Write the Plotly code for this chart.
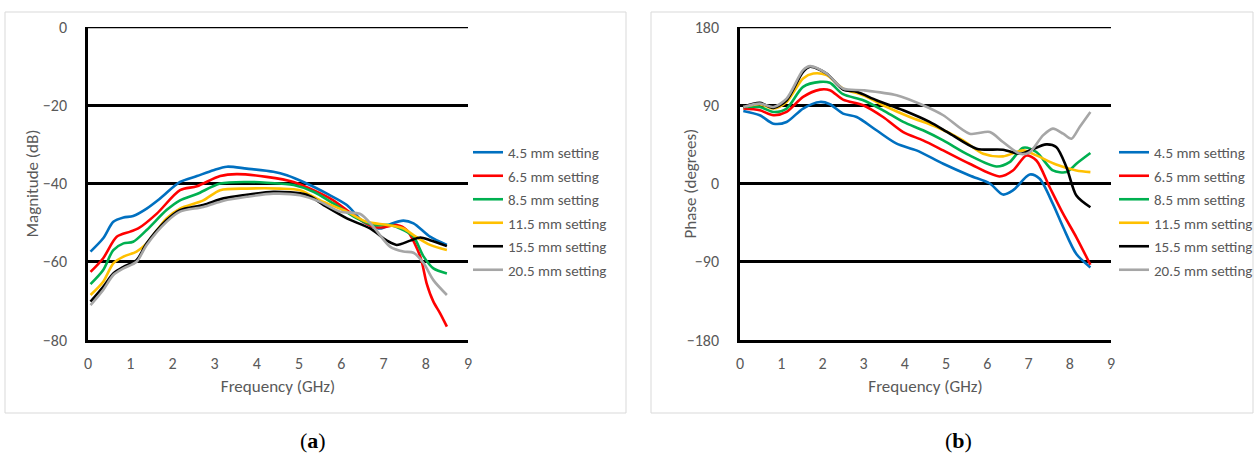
import plotly.graph_objects as go

W, H = 1258, 455

labels = ["4.5 mm setting", "6.5 mm setting", "8.5 mm setting",
          "11.5 mm setting", "15.5 mm setting", "20.5 mm setting"]
colors = ["#0070C0", "#FF0000", "#00B050", "#FFC000", "#000000", "#A6A6A6"]

# ---- (a) Magnitude (dB) ----
mag_f_45 = [0.06,0.36,0.60,0.84,1.07,1.39,1.71,2.18,2.58,2.97,3.29,3.76,4.39,4.71,5.18,5.66,6.13,6.52,6.92,7.16,7.47,7.71,8.10,8.50]
mag_v_45 = [-57.4,-54,-49.8,-48.7,-48.3,-46.4,-43.8,-39.6,-38.1,-36.6,-35.7,-36.2,-37,-37.9,-40,-42.6,-45.5,-49.8,-51.5,-50.4,-49.5,-50.2,-53.6,-55.7]
mag_f_65 = [0.06,0.36,0.68,1.00,1.19,1.63,2.18,2.58,3.13,3.52,4.23,4.87,5.34,5.81,6.29,6.76,7.00,7.31,7.55,7.87,8.02,8.18,8.34,8.50]
mag_v_65 = [-62.6,-59.1,-53.6,-52.3,-51.5,-47.7,-41.7,-40.7,-38.1,-37.6,-38.3,-39.6,-41.7,-44.3,-48.1,-51.1,-51.2,-50.6,-51.9,-58.7,-65.5,-70.2,-73.2,-76.6]
mag_f_85 = [0.06,0.36,0.60,0.84,1.07,1.39,1.86,2.18,2.58,3.13,3.76,4.23,4.87,5.34,5.81,6.37,6.76,7.16,7.47,7.71,7.95,8.18,8.50]
mag_v_85 = [-65.7,-62.1,-57,-55.3,-54.9,-51.9,-46.8,-44.3,-42.7,-40,-39.6,-39.8,-40.4,-42.1,-45.1,-48.9,-50.6,-50.6,-51.9,-53.6,-58.7,-61.7,-63]
mag_f_115 = [0.06,0.36,0.60,0.84,1.15,1.39,1.86,2.18,2.73,3.13,3.76,4.55,5.02,5.50,6.13,6.60,7.08,7.47,7.71,8.10,8.50]
mag_v_115 = [-68.5,-65.1,-60.4,-58.7,-57.4,-55.3,-48.9,-46.4,-44.3,-41.7,-41.3,-41.3,-41.7,-44.3,-47.2,-49.8,-50.6,-51.5,-53.2,-55.7,-57]
mag_f_155 = [0.06,0.36,0.60,0.84,1.15,1.39,1.86,2.18,2.73,3.21,3.76,4.39,5.18,5.58,6.13,6.68,7.08,7.31,7.63,7.87,8.10,8.50]
mag_v_155 = [-70.2,-66.4,-63,-61.3,-59.6,-55.3,-49.4,-46.8,-45.5,-43.8,-42.9,-42.1,-42.9,-45.5,-48.9,-51.5,-54.6,-55.7,-54.6,-53.8,-54.5,-56]
mag_f_205 = [0.06,0.36,0.60,0.84,1.15,1.39,1.86,2.18,2.73,3.21,3.76,4.39,5.02,5.50,5.97,6.45,6.76,7.16,7.47,7.71,7.95,8.18,8.50]
mag_v_205 = [-71.1,-67.2,-63.4,-61.7,-60,-55.7,-49.8,-47.2,-46,-44.4,-43.4,-42.6,-43,-44.7,-47.2,-47.8,-51.1,-56.2,-57.4,-57.7,-60.4,-64.7,-68.5]

# ---- (b) Phase (degrees) ----
ph_f_45 = [0.08,0.48,0.81,1.13,1.53,1.94,2.18,2.50,2.83,3.31,3.80,4.28,4.93,5.57,6.06,6.38,6.62,7.03,7.27,7.59,7.84,8.16,8.50]
ph_v_45 = [83.5,78.5,68.8,70.8,86.2,93.8,91.2,80.4,76.5,61.2,45.8,38.1,22.7,9.2,0,-12.7,-8,10.4,5.4,-23.5,-50.4,-81.2,-96.5]
ph_f_65 = [0.08,0.48,0.81,1.13,1.53,1.94,2.18,2.50,2.99,3.47,3.96,4.44,4.93,5.57,6.30,6.62,6.95,7.19,7.51,7.84,8.16,8.50]
ph_v_65 = [86.2,84.2,78.5,82.3,99.6,108,107.3,96.5,90,76.5,59.2,49.6,38.1,22.7,8.1,15,32.3,26.5,-4,-35,-61.9,-93.5]
ph_f_85 = [0.08,0.48,0.81,1.13,1.53,1.94,2.18,2.50,2.99,3.47,3.96,4.44,4.93,5.57,6.22,6.54,6.87,7.19,7.59,7.92,8.16,8.50]
ph_v_85 = [88,88,82.3,86.2,111.2,116.9,115.8,102.7,95.8,84.2,70.8,61.2,49.6,32.3,19.6,24.6,41.2,36.2,15,13.1,22.7,35]
ph_f_115 = [0.08,0.48,0.81,1.13,1.53,1.78,2.10,2.50,2.99,3.47,4.12,4.77,5.41,5.90,6.38,6.87,7.19,7.67,8.16,8.50]
ph_v_115 = [88,91.2,86.2,93.8,120.8,126.5,124.6,109.2,101.5,90,76.5,65,49.6,34.2,31.2,38.1,32.3,21.9,15,13.1]
ph_f_155 = [0.08,0.48,0.81,1.13,1.53,1.70,2.10,2.50,2.83,3.31,3.96,4.60,5.09,5.74,6.38,6.79,7.03,7.43,7.67,7.92,8.16,8.50]
ph_v_155 = [88,92.7,86.9,95.8,128.5,134.2,126.5,108.1,105.4,95.8,84.2,70.8,57.3,40,38.8,34.2,38.1,45,42,18.8,-13.8,-27.3]
ph_f_205 = [0.08,0.48,0.81,1.13,1.53,1.70,2.10,2.50,2.99,3.80,4.44,4.93,5.57,6.06,6.38,6.79,7.03,7.35,7.59,7.84,8.04,8.24,8.50]
ph_v_205 = [88,91.9,88,97.7,130.4,135,126.5,109.2,107.3,101.5,90,78.5,57.3,59.2,47.7,34.2,36.2,55.4,63.1,57.3,51.5,65,82.3]

x_ticks = [0, 1, 2, 3, 4, 5, 6, 7, 8, 9]
mag_ticks = [0, -20, -40, -60, -80]
ph_ticks = [180, 90, 0, -90, -180]

mag_series = [(mag_f_45, mag_v_45), (mag_f_65, mag_v_65), (mag_f_85, mag_v_85),
              (mag_f_115, mag_v_115), (mag_f_155, mag_v_155), (mag_f_205, mag_v_205)]
ph_series = [(ph_f_45, ph_v_45), (ph_f_65, ph_v_65), (ph_f_85, ph_v_85),
             (ph_f_115, ph_v_115), (ph_f_155, ph_v_155), (ph_f_205, ph_v_205)]

fig = go.Figure()
for i, (f, v) in enumerate(mag_series):
    fig.add_trace(go.Scatter(x=f, y=v, mode="lines", name=labels[i],
                             line=dict(color=colors[i], width=2.6, shape="spline", smoothing=0.8),
                             xaxis="x", yaxis="y", legend="legend", legendgroup="a%d" % i))
for i, (f, v) in enumerate(ph_series):
    fig.add_trace(go.Scatter(x=f, y=v, mode="lines", name=labels[i],
                             line=dict(color=colors[i], width=2.6, shape="spline", smoothing=0.8),
                             xaxis="x2", yaxis="y2", legend="legend2", legendgroup="b%d" % i))

FONT = "Carlito, Lato, sans-serif"
tickfont = dict(family=FONT, size=16, color="#595959")
titlefont = dict(family=FONT, size=17, color="#595959")

ydom = [1 - 340 / H, 1 - 27 / H]
ymid = 1 - 183.5 / H

def xax(dom, anchor):
    return dict(domain=dom, anchor=anchor, range=[0, 9], tickvals=x_ticks,
                showgrid=False, zeroline=False, showline=True, linecolor="black",
                linewidth=2.6, ticks="outside", ticklen=7, tickcolor="rgba(0,0,0,0)",
                automargin=False, layer="below traces",
                tickfont=tickfont, title=dict(text="Frequency (GHz)", font=titlefont, standoff=9))

def yax(rng, vals, anchor):
    return dict(domain=ydom, anchor=anchor, range=rng, tickvals=vals,
                showgrid=True, gridcolor="black", gridwidth=2.6, zeroline=False,
                showline=True, linecolor="black", linewidth=2.6,
                ticks="outside", ticklen=15, tickcolor="rgba(0,0,0,0)",
                automargin=False, layer="below traces", tickfont=tickfont)

legend_common = dict(font=dict(family=FONT, size=15, color="#595959"),
                     bgcolor="rgba(0,0,0,0)", tracegroupgap=1, itemwidth=30,
                     xanchor="left", yanchor="top", traceorder="grouped")

line_top = dict(color="black", width=2.6)
cap_font = dict(family="Liberation Serif, serif", size=22, color="black")

fig.update_layout(
    width=W, height=H, margin=dict(l=0, r=0, t=0, b=0, autoexpand=False),
    paper_bgcolor="white", plot_bgcolor="white",
    xaxis=xax([88 / W, 468 / W], "y"),
    yaxis=yax([-80, 0], mag_ticks, "x"),
    xaxis2=xax([740 / W, 1111 / W], "y2"),
    yaxis2=yax([-180, 180], ph_ticks, "x2"),
    legend=dict(x=468 / W, y=1 - 136 / H, **legend_common),
    legend2=dict(x=1114 / W, y=1 - 136 / H, **legend_common),
    shapes=[
        dict(type="rect", xref="paper", yref="paper", x0=5 / W, x1=626 / W,
             y0=1 - 413 / H, y1=1 - 12 / H, line=dict(color="#D9D9D9", width=1), layer="below"),
        dict(type="rect", xref="paper", yref="paper", x0=651 / W, x1=1253 / W,
             y0=1 - 413 / H, y1=1 - 12 / H, line=dict(color="#D9D9D9", width=1), layer="below"),
        dict(type="line", xref="x domain", yref="y", x0=0, x1=1, y0=mag_ticks[0], y1=mag_ticks[0],
             line=line_top, layer="below"),
        dict(type="line", xref="x2 domain", yref="y2", x0=0, x1=1, y0=ph_ticks[0], y1=ph_ticks[0],
             line=line_top, layer="below"),
    ],
    annotations=[
        dict(text="Magnitude (dB)", x=32 / W, y=ymid, xref="paper", yref="paper",
             textangle=-90, xanchor="center", yanchor="middle", showarrow=False, font=titlefont),
        dict(text="Phase (degrees)", x=690 / W, y=ymid, xref="paper", yref="paper",
             textangle=-90, xanchor="center", yanchor="middle", showarrow=False, font=titlefont),
        dict(text="(<b>a</b>)", x=313 / W, y=1 - 440 / H, xref="paper", yref="paper",
             xanchor="center", yanchor="middle", showarrow=False, font=cap_font),
        dict(text="(<b>b</b>)", x=958 / W, y=1 - 440 / H, xref="paper", yref="paper",
             xanchor="center", yanchor="middle", showarrow=False, font=cap_font),
    ],
)

fig.write_html("out.html")
